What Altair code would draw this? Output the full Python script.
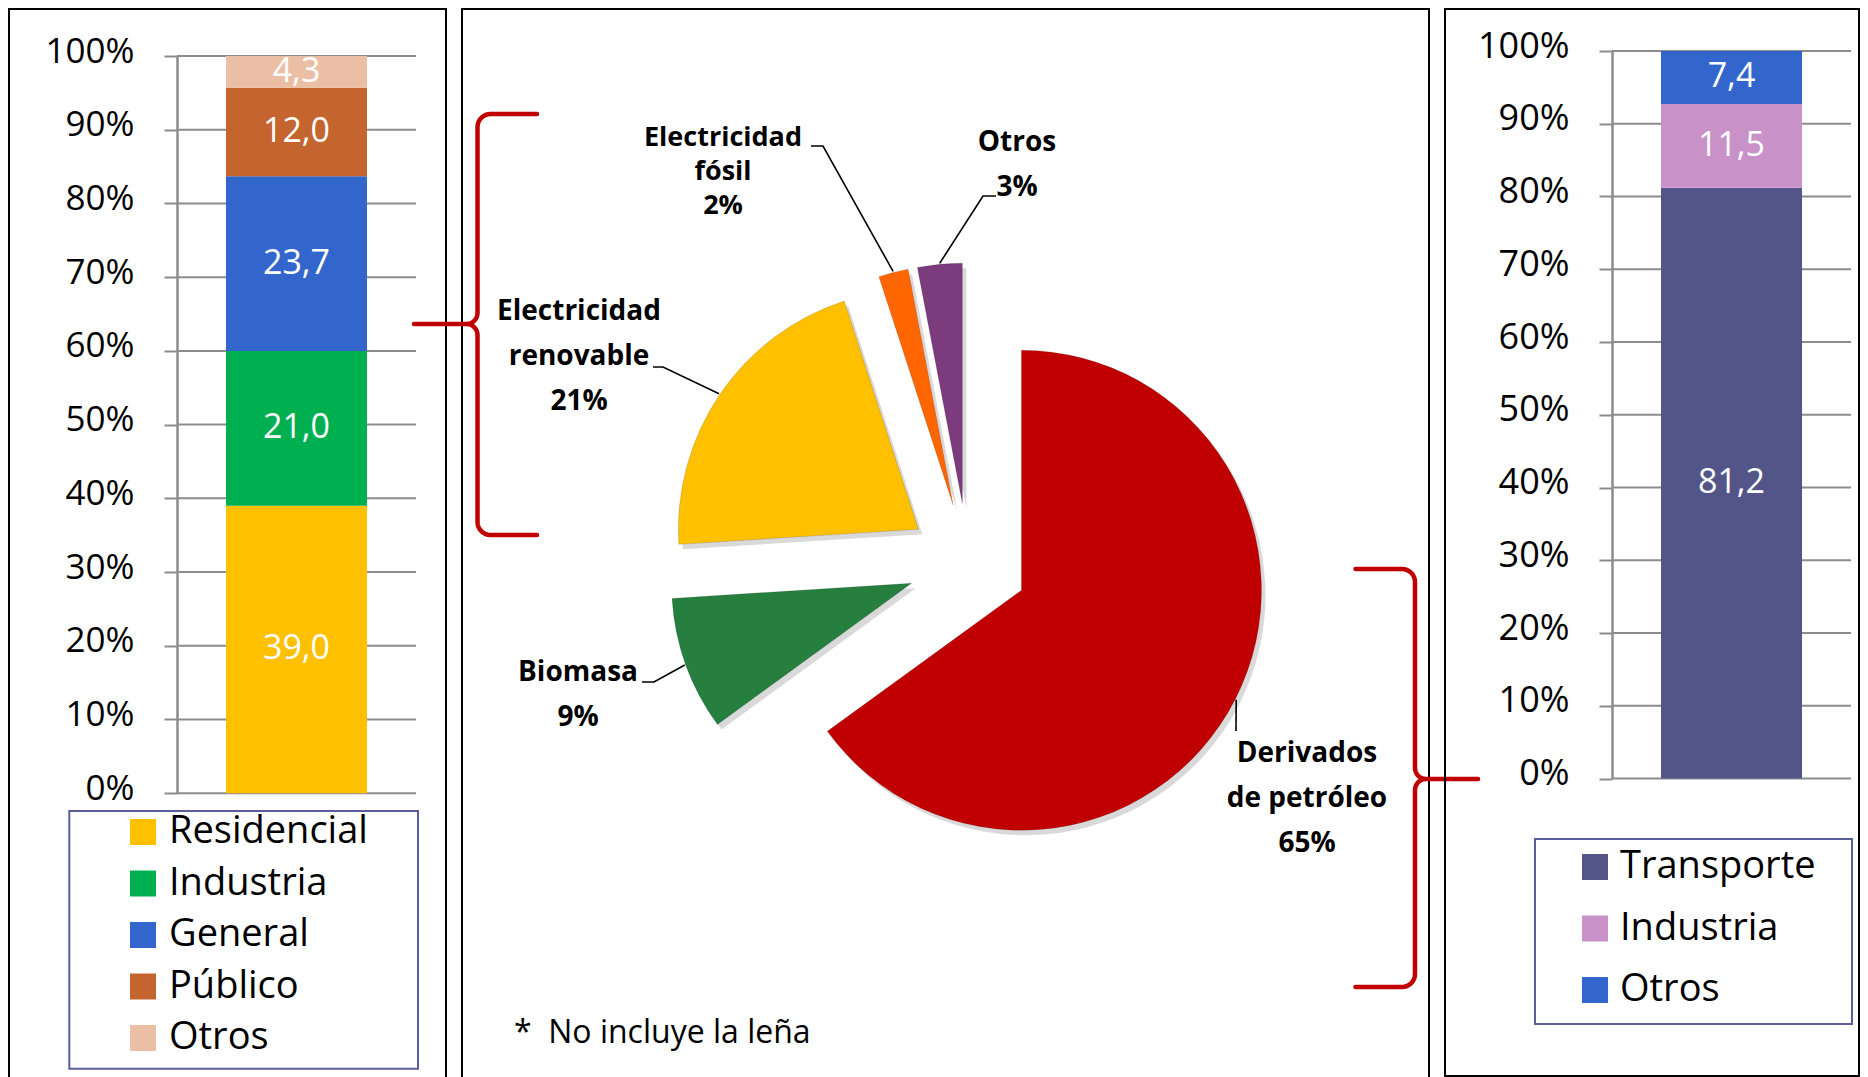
import math
import altair as alt
import pandas as pd

# ----------------------------- data -----------------------------
LEFT_SECTORS = ["Residencial", "Industria", "General", "Público", "Otros"]
LEFT_VALUES = [39.0, 21.0, 23.7, 12.0, 4.3]
LEFT_COLORS = ["#FFC000", "#00B050", "#3366CC", "#C4642E", "#EBBFA5"]

RIGHT_SECTORS = ["Transporte", "Industria", "Otros"]
RIGHT_VALUES = [81.2, 11.5, 7.4]
RIGHT_COLORS = ["#535589", "#C891C8", "#3366CC"]

PIE_SOURCES = ["Derivados de petróleo", "Biomasa", "Electricidad renovable",
               "Electricidad fósil", "Otros"]
PIE_LABELS = ["Derivados\nde petróleo", "Biomasa", "Electricidad\nrenovable",
              "Electricidad\nfósil", "Otros"]
PIE_VALUES = [65, 9, 21, 2, 3]
PIE_COLORS = ["#C00000", "#267F3F", "#FFC000", "#FF6600", "#7B3B7D"]

PERCENT_TICKS = [0, 10, 20, 30, 40, 50, 60, 70, 80, 90, 100]
FOOTNOTE = "*\u00a0\u00a0No incluye la leña"

# ----------------------------- layout -----------------------------
FONT = "Open Sans"
LEFT_W, MID_W, RIGHT_W = 437, 967, 414
GAP = 16
TALL_H = 1080
RIGHT_H = 1067
GRID = "#8C8C8C"
BOX = "#5B5E9C"
RED = "#C00000"

CX, CY = 506, 554          # pie centre inside the middle panel
R = 240                    # pie radius
EXPLODE = 60               # explode distance of every slice

LABEL_OFFSET = {           # first-line centre of each label, relative to pie centre
    "Derivados de petróleo": (339, 191),
    "Biomasa": (-390, 110),
    "Electricidad renovable": (-389, -251),
    "Electricidad fósil": (-245, -425),
    "Otros": (49, -420),
}
LEADER_START = {           # label-side points of leader lines, relative to pie centre
    "Derivados de petróleo": [(268, 168)],
    "Biomasa": [(-326, 119), (-314, 119)],
    "Electricidad renovable": [(-315, -196), (-305, -196)],
    "Electricidad fósil": [(-157, -417), (-145, -417)],
    "Otros": [(28, -367), (15, -367)],
}


def stacked_panel(key, sectors, values, colors, width, height, y_zero, y_full,
                  plot_x0, plot_x1, tick_size, legend_x, legend_y, row_pad, label_off, box):
    df = pd.DataFrame({"sector": sectors, "value": values,
                       "idx": list(range(len(sectors))), "col": key})
    y_scale = alt.Scale(domain=[0, 100], range=[y_zero, y_full], nice=False,
                        zero=False, clamp=True)
    x_scale = alt.Scale(domain=[key], range=[plot_x0, plot_x1],
                        paddingInner=0, paddingOuter=0.3475)
    y_axis = alt.Axis(values=PERCENT_TICKS, labelExpr="datum.value + '%'", title=None,
                      grid=False, domainColor=GRID, domainWidth=2.5, tickColor=GRID,
                      tickWidth=2, tickSize=13, labelFont=FONT, labelFontSize=tick_size,
                      labelColor="black", labelPadding=30, labelOffset=-5,
                      offset=-plot_x0)
    grid = alt.Chart(pd.DataFrame({"value": PERCENT_TICKS})).mark_rule(
        color=GRID, strokeWidth=2).encode(
        y=alt.Y("value:Q", scale=y_scale, axis=y_axis),
        x=alt.value(plot_x0), x2=alt.value(plot_x1))
    base = alt.Chart(df).transform_window(
        top="sum(value)", sort=[alt.SortField("idx")], frame=[None, 0]
    ).transform_calculate(
        bottom="datum.top - datum.value",
        mid="datum.top - datum.value / 2",
        lab="replace(format(datum.value, '.1f'), '.', ',')",
    )
    bars = base.mark_bar().encode(
        x=alt.X("col:N", scale=x_scale, axis=None),
        y=alt.Y("top:Q", scale=y_scale, axis=y_axis),
        y2="bottom:Q",
        color=alt.Color("sector:N", scale=alt.Scale(domain=sectors, range=colors),
                        legend=alt.Legend(orient="none", legendX=legend_x, legendY=legend_y,
                                          title=None, direction="vertical",
                                          symbolType="square", symbolSize=676,
                                          symbolStrokeWidth=0, symbolOpacity=1,
                                          labelFont=FONT, labelFontSize=38,
                                          labelColor="black", labelOffset=label_off,
                                          labelLimit=0, rowPadding=row_pad, padding=0)),
    )
    labels = base.mark_text(color="white", font=FONT, fontSize=34,
                            baseline="middle", align="center").encode(
        x=alt.X("col:N", scale=x_scale, axis=None),
        y=alt.Y("mid:Q", scale=y_scale, axis=y_axis),
        text="lab:N",
    )
    frame = alt.Chart(pd.DataFrame({"k": [0]})).mark_rect(
        fillOpacity=0, stroke=BOX, strokeWidth=2).encode(
        x=alt.value(box[0]), x2=alt.value(box[1]),
        y=alt.value(box[2]), y2=alt.value(box[3]))
    return alt.layer(grid, bars, labels, frame).properties(width=width, height=height)


def brace_points(spine_x, top, bottom, tip_y, end_x, tip_x, r=13, rt=11, n=8):
    s = 1 if end_x > spine_x else -1
    pts = [(end_x, top)]
    cx, cy = spine_x + s * r, top + r
    for k in range(n + 1):
        a = k / n * math.pi / 2
        pts.append((cx - s * r * math.sin(a), cy - r * math.cos(a)))
    cx, cy = spine_x - s * rt, tip_y - rt
    for k in range(n + 1):
        a = k / n * math.pi / 2
        pts.append((cx + s * rt * math.cos(a), cy + rt * math.sin(a)))
    pts.append((tip_x, tip_y))
    cx, cy = spine_x - s * rt, tip_y + rt
    for k in range(n + 1):
        a = k / n * math.pi / 2
        pts.append((cx + s * rt * math.sin(a), cy - rt * math.cos(a)))
    cx, cy = spine_x + s * r, bottom - r
    for k in range(n + 1):
        a = k / n * math.pi / 2
        pts.append((cx - s * r * math.cos(a), cy + r * math.sin(a)))
    pts.append((end_x, bottom))
    return pts


def pie_panel():
    tau = 2 * math.pi
    df = pd.DataFrame({"source": PIE_SOURCES, "label": PIE_LABELS,
                       "value": PIE_VALUES, "idx": list(range(len(PIE_VALUES)))})
    base = alt.Chart(df).transform_window(
        t1="sum(value)", sort=[alt.SortField("idx")], frame=[None, 0]
    ).transform_calculate(
        t0="datum.t1 - datum.value",
        mid=f"(datum.t1 - datum.value / 2) / 100 * {tau}",
        px=f"{CX} + {EXPLODE} * sin(datum.mid)",
        py=f"{CY} - {EXPLODE} * cos(datum.mid)",
        sx="datum.px + 4",
        sy="datum.py + 5",
    )
    theta_scale = alt.Scale(domain=[0, 100], range=[0, tau])
    shadow = base.mark_arc(radius=R, color="#808080", opacity=0.3).encode(
        theta=alt.Theta("t0:Q", scale=theta_scale), theta2="t1:Q",
        x=alt.X("sx:Q", scale=None, axis=None), y=alt.Y("sy:Q", scale=None, axis=None))
    slices = base.mark_arc(radius=R, stroke="#00000022", strokeWidth=1).encode(
        theta=alt.Theta("t0:Q", scale=theta_scale), theta2="t1:Q",
        x=alt.X("px:Q", scale=None, axis=None), y=alt.Y("py:Q", scale=None, axis=None),
        color=alt.Color("source:N", scale=alt.Scale(domain=PIE_SOURCES, range=PIE_COLORS),
                        legend=None))

    # leader lines: label-side points + point on slice rim at its mid angle
    rows = []
    total = sum(PIE_VALUES)
    cum = 0
    for src, v in zip(PIE_SOURCES, PIE_VALUES):
        mid = (cum + v / 2) / total * tau
        cum += v
        k = 0
        for dx, dy in LEADER_START[src]:
            rows.append({"source": src, "k": k, "lx": CX + dx, "ly": CY + dy})
            k += 1
        rr = EXPLODE + R + 1
        rows.append({"source": src, "k": k, "lx": CX + rr * math.sin(mid),
                     "ly": CY - rr * math.cos(mid)})
    leaders = alt.Chart(pd.DataFrame(rows)).mark_line(color="black", strokeWidth=1.6).encode(
        x=alt.X("lx:Q", scale=None, axis=None), y=alt.Y("ly:Q", scale=None, axis=None),
        detail="source:N", order="k:Q")

    lab_df = pd.DataFrame({
        "source": PIE_SOURCES, "label": PIE_LABELS, "value": PIE_VALUES,
        "tx": [CX + LABEL_OFFSET[s][0] for s in PIE_SOURCES],
        "ty": [CY + LABEL_OFFSET[s][1] for s in PIE_SOURCES],
    })
    lab_base = alt.Chart(lab_df).transform_calculate(
        txt="datum.label + '\\n' + datum.value + '%'")
    enc = dict(x=alt.X("tx:Q", scale=None, axis=None),
               y=alt.Y("ty:Q", scale=None, axis=None), text="txt:N")
    labels_wide = lab_base.transform_filter(
        "datum.source != 'Electricidad fósil'").mark_text(
        font=FONT, fontSize=28, fontWeight="bold", lineBreak="\n", lineHeight=45,
        align="center", baseline="middle", color="black").encode(**enc)
    labels_tight = lab_base.transform_filter(
        "datum.source == 'Electricidad fósil'").mark_text(
        font=FONT, fontSize=27, fontWeight="bold", lineBreak="\n", lineHeight=34,
        align="center", baseline="middle", color="black").encode(**enc)

    brace_rows = []
    for name, pts in [
        ("electricidad", brace_points(15.5, 105, 526, 315, 75, -48)),
        ("petroleo", brace_points(953, 560, 978, 770, 893.5, 1016)),
    ]:
        for i, (bx, by) in enumerate(pts):
            brace_rows.append({"brace": name, "k": i, "bx": bx, "by": by})
    braces = alt.Chart(pd.DataFrame(brace_rows)).mark_line(
        color=RED, strokeWidth=4.5, strokeCap="round", strokeJoin="round").encode(
        x=alt.X("bx:Q", scale=None, axis=None), y=alt.Y("by:Q", scale=None, axis=None),
        detail="brace:N", order="k:Q")

    note = alt.Chart(pd.DataFrame({"t": [FOOTNOTE]})).mark_text(
        font=FONT, fontSize=32, align="left", baseline="middle", color="black").encode(
        x=alt.value(52), y=alt.value(1024), text="t:N")

    return alt.layer(braces, shadow, slices, leaders, labels_wide, labels_tight, note
                     ).properties(width=MID_W, height=TALL_H)


left = stacked_panel("izq", LEFT_SECTORS, LEFT_VALUES, LEFT_COLORS, LEFT_W, TALL_H,
                     784.2, 47, 168, 407, 35, 115, 804, 13.5, 7,
                     (60.3, 409, 802, 1059.7))
right = stacked_panel("der", RIGHT_SECTORS, RIGHT_VALUES, RIGHT_COLORS, RIGHT_W, RIGHT_H,
                      769.5, 42, 167, 406, 36, 131, 839, 23.5, 6,
                      (90, 407, 830, 1015))
middle = pie_panel()

chart = alt.hconcat(left, middle, right, spacing=GAP, bounds="flush").resolve_scale(
    color="independent", x="independent", y="independent"
).properties(padding=0, background="white").configure_view(
    stroke="black", strokeWidth=2)

chart.save("out.html", embed_options={"renderer": "svg", "actions": False})
